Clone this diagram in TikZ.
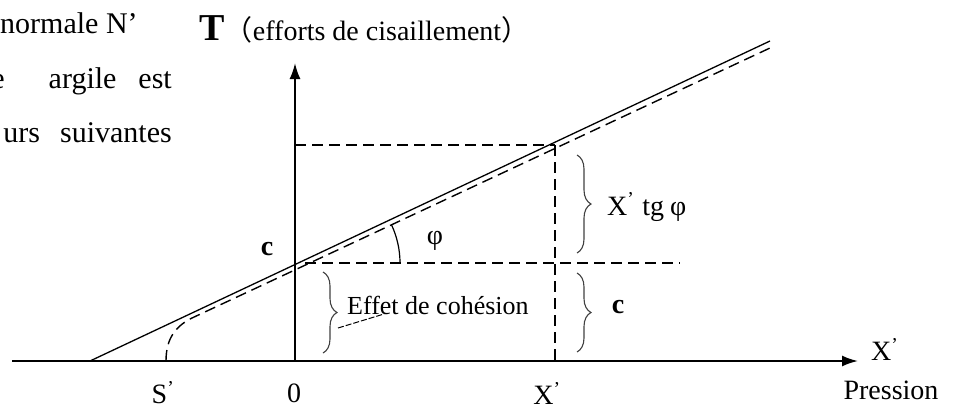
\documentclass[tikz,border=0pt]{standalone}
\usepackage{fontspec}
\setmainfont{Liberation Serif}
\newfontfamily\cjk{Noto Sans CJK SC}
\usetikzlibrary{
    calc,
    arrows.meta,
    decorations.pathreplacing
}
\newcommand{\SideBrace}[2]{%
  \draw[brc] (#1) -- (#2);
}
\tikzset{
  axis/.style={line width=2pt,-{Latex[length=16pt,width=11pt]}},
  guide/.style={line width=1.4pt,dash pattern=on 11pt off 6pt},
  brc/.style={line width=1.1pt,black!75,decorate,
    decoration={brace,amplitude=14pt}},
  lbl/.style={font=\fontsize{28}{30}\selectfont,inner sep=0pt},
  page/.style={font=\fontsize{30}{32}\selectfont,inner sep=0pt}
}

\begin{document}
\begin{tikzpicture}[x=1pt,y=-1pt]
\useasboundingbox (0,0) rectangle (958,410);
% text of the page, cut by the frame
\node[page,anchor=base west] (txa) at (0,33) {normale N’};
\node[page,anchor=base east] (txb) at (172,88) {e\hspace{44pt}argile\hspace{22pt}est};
\node[page,anchor=base east] (txc) at (172,142) {urs\hspace{20pt}suivantes};
% axes
\coordinate (Xs) at (12,361);
\coordinate (Xe) at (858,361);
\coordinate (O) at (295,361);
\coordinate (Ye) at (295,63);
\draw[axis] (Xs) -- (Xe);
\draw[axis] (O) -- (Ye);
\node[lbl] (lO) at (294,393) {0};
\node[lbl] (lS) at (163,393) {S\textsuperscript{’}};
\node[lbl] (lX) at (547,393) {X\textsuperscript{’}};
\node[lbl,anchor=west] (lXe) at (871,349) {X\textsuperscript{’}};
\node[lbl] (lP) at (891,390) {Pression};
\node[lbl,anchor=base west,font=\fontsize{38}{40}\bfseries] (lT) at (199,40) {T};
\node[lbl,anchor=base west] (lTt) at (lT.base east) {{\cjk （}efforts de cisaillement{\cjk ）}};
% failure lines
\coordinate (A) at (90,361);
\coordinate (B) at (770,41);
\coordinate (S) at (166,361);
\coordinate (Sa) at (192,318);
\coordinate (Bd) at (770,48);
\draw[line width=1.3pt] (A) -- (B);
\draw[guide] (S) .. controls (166,338) and (176,326) .. (Sa) -- (Bd);
% construction lines
\coordinate (C) at (295,263);
\coordinate (Ch) at (305,263);
\coordinate (Ce) at (680,263);
\coordinate (Pt) at (295,145);
\coordinate (P) at (555,145);
\coordinate (Px) at (555,361);
\draw[guide] (Ch) -- (Ce);
\draw[guide] (Pt) -- (P);
\draw[guide] (P) -- (Px);
\node[lbl,font=\fontsize{28}{30}\bfseries] (lc) at (267,249) {c};
% angle phi
\coordinate (V) at (310,263);
\draw[line width=1.2pt] ($(V)+(90,0)$) arc[start angle=0,end angle=-25,radius=90];
\node[lbl] (lphi) at (435,241) {φ};
% braces
\coordinate (bua) at (577,155);
\coordinate (bub) at (577,253);
\coordinate (bla) at (577,273);
\coordinate (blb) at (577,352);
\coordinate (bca) at (323,272);
\coordinate (bcb) at (323,353);
\SideBrace{bua}{bub}
\SideBrace{bla}{blb}
\SideBrace{bca}{bcb}
\node[lbl,anchor=west] (ltg) at (607,207) {X\textsuperscript{’}\hspace{8pt}tg\hspace{6pt}φ};
\node[lbl,font=\fontsize{28}{30}\bfseries] (lcr) at (618,307) {c};
\node[lbl,anchor=west,font=\fontsize{26}{28}\selectfont] (lcoh) at (347,305) {Effet de cohésion};
\coordinate (La) at (338,328);
\coordinate (Lb) at (384,314);
\draw[line width=1pt,dash pattern=on 6pt off 2pt] (La) -- (Lb);
\end{tikzpicture}
\end{document}
